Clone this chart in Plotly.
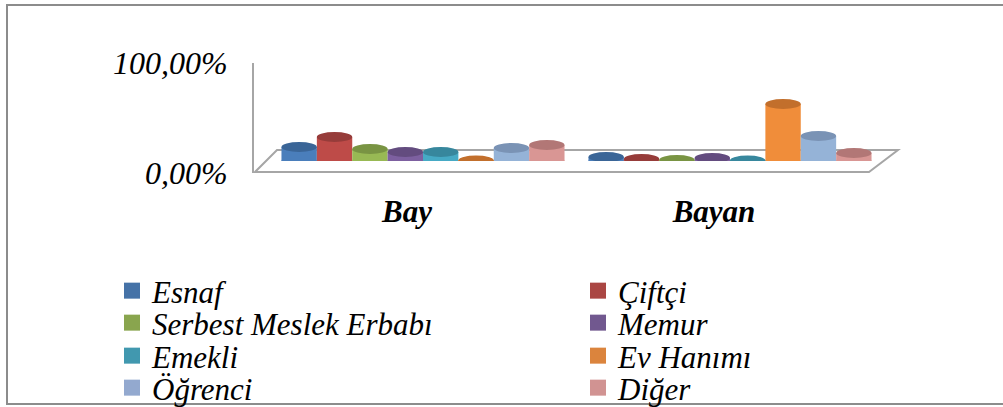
import plotly.graph_objects as go

# ---- data -------------------------------------------------------------
groups = ["Bay", "Bayan"]
occupations = ["Esnaf", "Çiftçi", "Serbest Meslek Erbabı", "Memur",
               "Emekli", "Ev Hanımı", "Öğrenci", "Diğer"]
bay_pct = [14, 24, 12, 9, 9, 0.5, 13, 16]
bayan_pct = [4, 2, 1, 3, 0.5, 57, 25, 8]
y_tick_values = [0, 100]

# ---- styling ----------------------------------------------------------
body_colors = ["#4A7EBB", "#BE4B48", "#98B954", "#7D60A0",
               "#46AAC5", "#F08D3A", "#95B3D7", "#D99694"]
cap_colors = ["#3A6597", "#963C3A", "#799443", "#634C7F",
              "#37879D", "#C26F2C", "#7A93B5", "#B27776"]
legend_colors = ["#4572A7", "#AA4643", "#89A54E", "#71588F",
                 "#4198AF", "#DB843D", "#93A9CF", "#D19392"]
grey = "#A6A6A6"
serif = "Liberation Serif"

W, H = 1003, 407


def px(x):
    return x / W


def py(y):
    return 1 - y / H


GROUP_W = 0.922                      # share of a category used by the 8 cylinders
BAR_W = GROUP_W / len(occupations)

# legend grid: two columns, four rows (entries read row by row)
legend_cols = [112, 578]
legend_rows = [291, 323, 356, 388]

fig = go.Figure()
shapes = []

# floor of the pseudo-3D plot area
shapes.append(dict(
    type="path", xref="paper", yref="paper", layer="below",
    path=(f"M {px(255)},{py(172)} L {px(869)},{py(172)} "
          f"L {px(898)},{py(150)} L {px(277)},{py(150)} Z"),
    line=dict(color=grey, width=2), fillcolor="rgba(0,0,0,0)"))

# outer chart border
shapes.append(dict(
    type="rect", xref="paper", yref="paper", layer="below",
    x0=px(7), x1=px(1010), y0=py(404), y1=py(5),
    line=dict(color="#8C8C8C", width=2), fillcolor="rgba(0,0,0,0)"))

values_by_occ = list(zip(bay_pct, bayan_pct))
legend_layouts = {}

for i, name in enumerate(occupations):
    vals = list(values_by_occ[i])
    offset = -GROUP_W / 2 + i * BAR_W
    legend_id = "legend" if i == 0 else f"legend{i + 1}"
    fig.add_trace(go.Bar(
        x=list(range(len(groups))), y=vals, name=name,
        width=BAR_W, offset=offset,
        marker=dict(color=body_colors[i], line=dict(width=0)),
        legendgroup=name, showlegend=False,
    ))
    # square legend key for the series
    fig.add_trace(go.Scatter(
        x=[None], y=[None], mode="markers", name=name,
        marker=dict(symbol="square", size=16, color=legend_colors[i],
                    line=dict(width=0)),
        legendgroup=name, legend=legend_id, hoverinfo="skip",
    ))
    legend_layouts[legend_id] = dict(
        x=px(legend_cols[i % 2]), y=py(legend_rows[i // 2]),
        xanchor="left", yanchor="middle", orientation="v",
        bgcolor="rgba(0,0,0,0)", borderwidth=0, itemsizing="trace",
        font=dict(family=serif, size=31, style="italic", color="black"),
        itemclick=False, itemdoubleclick=False,
    )
    for g, v in enumerate(vals):
        x0 = g + offset
        x1 = x0 + BAR_W
        # rounded base of the cylinder
        shapes.append(dict(
            type="circle", xref="x", yref="y", layer="below",
            xsizemode="scaled", ysizemode="pixel", yanchor=0,
            x0=x0, x1=x1, y0=-5, y1=5,
            fillcolor=body_colors[i], line=dict(width=0)))
        # top cap of the cylinder
        shapes.append(dict(
            type="circle", xref="x", yref="y", layer="above",
            xsizemode="scaled", ysizemode="pixel", yanchor=v,
            x0=x0, x1=x1, y0=-5, y1=5,
            fillcolor=cap_colors[i], line=dict(width=0)))

# value axis with the percentage labels (front wall edge, own subplot)
fig.add_trace(go.Scatter(x=[], y=[], xaxis="x2", yaxis="y2", showlegend=False))
y_tick_text = [f"{v:.2f}".replace(".", ",") + "%" for v in y_tick_values]

fig.update_layout(
    width=W, height=H,
    margin=dict(l=0, r=0, t=0, b=0, autoexpand=False),
    paper_bgcolor="white", plot_bgcolor="rgba(0,0,0,0)",
    barmode="overlay",
    showlegend=True,
    xaxis=dict(
        domain=[px(269.5), px(883.5)], range=[-0.5, 1.5],
        tickmode="array", tickvals=list(range(len(groups))), ticktext=groups,
        showgrid=False, zeroline=False, showline=False, ticks="",
        ticklabelshift=-16, ticklabelstandoff=29,
        tickfont=dict(family=serif, size=31, style="italic",
                      weight="bold", color="black"),
    ),
    yaxis=dict(
        domain=[py(161), py(61)], range=[0, 100],
        showgrid=False, zeroline=False, showline=False,
        showticklabels=False, ticks="",
    ),
    xaxis2=dict(
        domain=[px(254), px(860)], anchor="y2", range=[0, 1],
        visible=False,
    ),
    yaxis2=dict(
        anchor="x2", side="left",
        domain=[py(173), py(63)], range=[0, 100],
        tickmode="array", tickvals=y_tick_values, ticktext=y_tick_text,
        showgrid=False, zeroline=False,
        showline=True, linecolor=grey, linewidth=2, ticks="",
        ticklabelstandoff=18,
        tickfont=dict(family=serif, size=32, style="italic", color="black"),
    ),
    shapes=shapes,
    **legend_layouts,
)

fig.write_html("out.html")
